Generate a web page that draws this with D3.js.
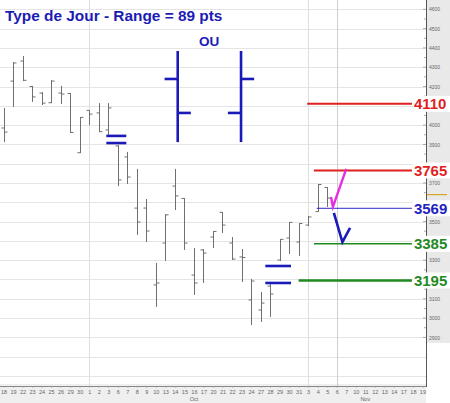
<!DOCTYPE html>
<html><head><meta charset="utf-8">
<script src="https://cdn.jsdelivr.net/npm/d3@7"></script>
<style>html,body{margin:0;padding:0;background:#fff;}svg{display:block;}</style>
</head><body>
<svg id="c" width="450" height="403"></svg>
<script>
// ---- data ----
const dayLabels = ["18","19","22","23","24","25","26","29","30","1","2","3","6","7","8","9","10","13","14","15","16","17","20","21","22","23","24","27","28","29","30","31","3","4","5","6","7","10","11","12","13","14","17","18","19"];
const months = [{name:"Oct", from:9, to:31},{name:"Nov", from:32, to:44}];
const highs  = [4089,4327,4358,4203,4171,4234,4203,4166,4042,4078,4114,4114,3897,3861,3773,3617,3286,3539,3773,3622,3363,3358,3451,3550,3420,3358,3203,3135,3177,3410,3498,3493,3529,3695,3679];
const lows   = [3912,4094,4228,4120,4104,4114,4109,3959,3855,4000,3964,3938,3684,3695,3431,3394,3058,3296,3560,3353,3120,3182,3363,3441,3301,3187,2964,2980,3006,3296,3332,3322,3477,3550,3576];
const opens  = [3985,4228,4332,4200,4166,4116,4166,4164,3857,4076,4063,3975,3892,3835,3570,3570,3172,3389,3684,3620,3223,3353,3420,3548,3389,3317,3094,3042,3166,3301,3415,3394,3482,3552,3677];
const closes = [3964,4322,4232,4146,4114,4228,4161,3962,4040,4057,3966,4089,3716,3731,3498,3451,3182,3535,3633,3389,3182,3337,3449,3482,3306,3314,3192,3078,3125,3408,3496,3490,3524,3692,3622];
const gridValues = [2700,2800,2900,3000,3100,3200,3300,3400,3500,3600,3700,3800,3900,4000,4100,4200,4300,4400,4500,4600];
const yTickLabels = [2900,3000,3100,3300,3500,3700,3900,4000,4200,4300,4400,4500,4600];
const monthStarts = [9, 32];
const todayIndex = 35;
const lastPrice = 3640;
const levels = [
  {v:4110, from:31.9, color:"#e01f1f", text:"#e01f1f", w:2},
  {v:3765, from:32.6, color:"#e01f1f", text:"#e01f1f", w:2},
  {v:3569, from:32.9, color:"#2a2ac8", text:"#2222c0", w:1},
  {v:3385, from:32.6, color:"#1f8a1f", text:"#1f8a1f", w:1.6},
  {v:3195, from:31.0, color:"#1f8a1f", text:"#1f8a1f", w:2.4}
];
const levelEnd = 42.9;
const blueMarks = [
  {from:10.8, to:12.9, v:3944},{from:10.8, to:12.9, v:3907},
  {from:27.5, to:30.2, v:3270},{from:27.5, to:30.2, v:3182}
];
const pinkArrow = [[34.4,3627],[34.6,3576],[36.0,3773]];
const blueV = [[34.7,3545],[35.6,3394],[36.4,3467]];
// illustration of the two day types (x index, high, low, left tick, right tick)
const typeBars = [
  {x:18.3, hi:4384, lo:3912, left:4239, right:4063},
  {x:24.95, hi:4384, lo:3912, left:4063, right:4239}
];

// ---- scales ----
const x = d3.scaleLinear().domain([0,44]).range([3.5,422.4]);
const y = d3.scaleLinear().domain([2900,4600]).range([337.4,9.3]);
const svg = d3.select("#c");
const axisX = 426, axisY = 386;
const font = "'Liberation Sans', Arial, sans-serif";

// right panel
svg.append("rect").attr("x",axisX).attr("y",0).attr("width",450-axisX).attr("height",343).attr("fill","#e9e9e9");
// bottom band
svg.append("rect").attr("x",0).attr("y",axisY-2).attr("width",axisX).attr("height",403-axisY+2).attr("fill","#efefef");

// grid
svg.append("g").selectAll("line").data(gridValues).join("line")
  .attr("x1",0).attr("x2",axisX).attr("y1",d=>Math.round(y(d))+0.5).attr("y2",d=>Math.round(y(d))+0.5)
  .attr("stroke","#e5e5e5").attr("stroke-width",1);
svg.append("g").selectAll("line").data(monthStarts).join("line")
  .attr("x1",d=>Math.round(x(d))+0.5).attr("x2",d=>Math.round(x(d))+0.5).attr("y1",0).attr("y2",axisY)
  .attr("stroke","#dedede");
svg.append("line").attr("x1",Math.round(x(todayIndex))+0.5).attr("x2",Math.round(x(todayIndex))+0.5)
  .attr("y1",0).attr("y2",axisY).attr("stroke","#cfcfcf");

// right axis
const yAxis = d3.axisRight(y).tickValues(yTickLabels).tickSize(0).tickPadding(3).tickFormat(d3.format("d"));
const ya = svg.append("g").attr("transform",`translate(${axisX},0)`).call(yAxis);
ya.select(".domain").remove();
ya.selectAll("text").attr("font-size",5).attr("fill","#666").attr("font-family",font);
svg.append("g").selectAll("line").data(d3.range(2900,4650,50)).join("line")
  .attr("x1",d=> d%100===0 ? axisX-3 : axisX-2).attr("x2",axisX)
  .attr("y1",d=>y(d)).attr("y2",d=>y(d)).attr("stroke","#777").attr("stroke-width",0.6);
svg.append("line").attr("x1",axisX+0.5).attr("x2",axisX+0.5).attr("y1",0).attr("y2",axisY+1).attr("stroke","#555");
svg.append("line").attr("x1",axisX+1).attr("x2",447).attr("y1",y(lastPrice)).attr("y2",y(lastPrice)).attr("stroke","#d9a520").attr("stroke-width",1.2);

// bottom axis
svg.append("line").attr("x1",0).attr("x2",axisX).attr("y1",axisY+0.5).attr("y2",axisY+0.5).attr("stroke","#888");
const xAxis = d3.axisBottom(x).tickValues(d3.range(dayLabels.length)).tickSize(2).tickPadding(2).tickFormat(i=>dayLabels[i]);
const xa = svg.append("g").attr("transform",`translate(0,${axisY})`).call(xAxis);
xa.select(".domain").remove();
xa.selectAll("line").attr("stroke","#999").attr("stroke-width",0.5);
xa.selectAll("text").attr("font-size",5.5).attr("fill","#666").attr("font-family",font);
svg.append("g").selectAll("text").data(months).join("text")
  .attr("x",d=>x((d.from+d.to)/2)).attr("y",401).attr("text-anchor","middle")
  .attr("font-size",5.5).attr("fill","#666").attr("font-family",font).text(d=>d.name);

// OHLC bars
const bars = highs.map((h,i)=>({i, h, l:lows[i], o:opens[i], c:closes[i]}));
const bg = svg.append("g").attr("stroke","#707070").attr("stroke-width",1);
bars.forEach(b=>{
  const cx = Math.round(x(b.i))+0.5;
  bg.append("line").attr("x1",cx).attr("x2",cx).attr("y1",y(b.h)).attr("y2",y(b.l));
  bg.append("line").attr("x1",cx-3).attr("x2",cx).attr("y1",y(b.o)).attr("y2",y(b.o));
  bg.append("line").attr("x1",cx).attr("x2",cx+3).attr("y1",y(b.c)).attr("y2",y(b.c));
});

// blue marks
svg.append("g").selectAll("line").data(blueMarks).join("line")
  .attr("x1",d=>x(d.from)).attr("x2",d=>x(d.to)).attr("y1",d=>y(d.v)).attr("y2",d=>y(d.v))
  .attr("stroke","#1a1ab8").attr("stroke-width",2.6);

// levels
const lg = svg.append("g");
levels.forEach(L=>{
  lg.append("line").attr("x1",x(L.from)).attr("x2",x(levelEnd)).attr("y1",y(L.v)).attr("y2",y(L.v))
    .attr("stroke",L.color).attr("stroke-width",L.w);
  lg.append("rect").attr("x",x(levelEnd)+1).attr("y",y(L.v)-8).attr("width",450-x(levelEnd)-1).attr("height",16).attr("fill","#fff");
  lg.append("text").attr("x",x(levelEnd)+2).attr("y",y(L.v)+5.3).attr("font-family",font).attr("font-weight","bold")
    .attr("font-size",15).attr("fill",L.text).text(L.v);
});

// arrows
const line = d3.line().x(d=>x(d[0])).y(d=>y(d[1]));
svg.append("path").attr("d",line(pinkArrow)).attr("fill","none").attr("stroke","#e62ee0").attr("stroke-width",2.4).attr("stroke-linejoin","miter");
svg.append("path").attr("d",line(blueV)).attr("fill","none").attr("stroke","#1a1ab8").attr("stroke-width",2.6);

// day-type illustration
const tg = svg.append("g").attr("stroke","#1a1ab8").attr("stroke-width",2.6);
typeBars.forEach(t=>{
  const cx = x(t.x), w = x(1.38)-x(0);
  tg.append("line").attr("x1",cx).attr("x2",cx).attr("y1",y(t.hi)).attr("y2",y(t.lo));
  tg.append("line").attr("x1",cx-w).attr("x2",cx).attr("y1",y(t.left)).attr("y2",y(t.left));
  tg.append("line").attr("x1",cx).attr("x2",cx+w).attr("y1",y(t.right)).attr("y2",y(t.right));
});
svg.append("text").attr("x",209).attr("y",46).attr("text-anchor","middle").attr("font-family",font)
  .attr("font-weight","bold").attr("font-size",13.5).attr("fill","#1a1ab8").text("OU");

// title
svg.append("text").attr("x",5).attr("y",21).attr("font-family",font).attr("font-weight","bold")
  .attr("font-size",15.4).attr("fill","#1c1cb4").text("Type de Jour - Range = 89 pts");
</script>
</body></html>
